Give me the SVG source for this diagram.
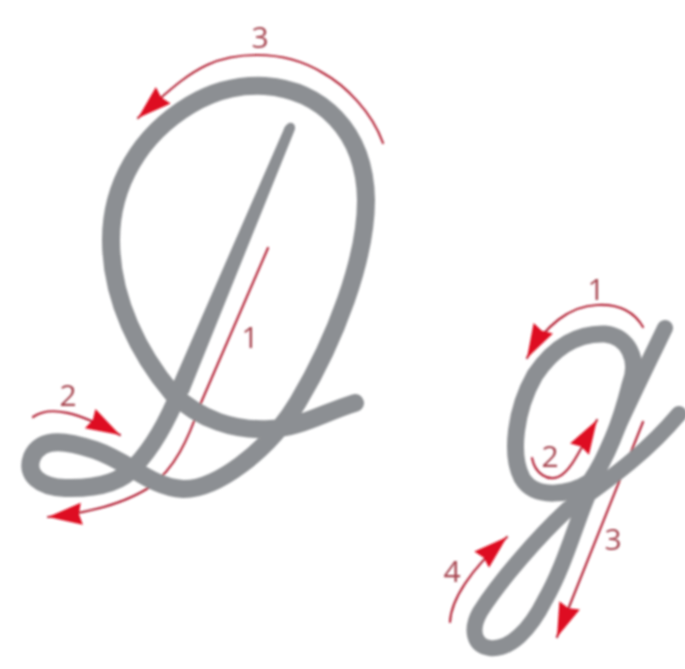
<svg xmlns="http://www.w3.org/2000/svg" width="685" height="669" viewBox="0 0 685 669">
<defs>
<filter id="soft" x="-5%" y="-5%" width="110%" height="110%"><feGaussianBlur stdDeviation="0.8"/></filter>
<marker id="head" markerUnits="userSpaceOnUse" markerWidth="36" markerHeight="28" refX="34" refY="14" orient="auto"><path d="M0 3L34 14L0 25L3 14Z" fill="#de1021"/></marker>
</defs>
<style>
.arrow{fill:none;stroke:#b5283a;stroke-width:2.2;stroke-linecap:round}
.glyph{fill:none;stroke:#8c8f93;stroke-linecap:round;stroke-linejoin:round}
.num{font-family:"Open Sans","Liberation Sans",sans-serif;font-weight:400;font-size:30px;fill:#a5434e;text-anchor:middle}
</style>
<rect width="685" height="669" fill="#ffffff"/>
<g filter="url(#soft)">
<g id="connectors">
<path class="arrow" marker-end="url(#head)" d="M383 143C372 112 345 85 323 73C302 60 280 55 257 55C237 55 222 58 207 65C190 73 178 82 138 118"/>
<path class="arrow" marker-end="url(#head)" d="M268 248L200 405C188 440 175 468 150 487C125 503 90 513 48 517"/>
<path class="arrow" marker-end="url(#head)" d="M33 417C50 405 78 412 120 435"/>
<path class="arrow" marker-end="url(#head)" d="M643 327C632 308 615 304 597 305C570 306 545 325 527 358"/>
<path class="arrow" marker-end="url(#head)" d="M532 458C535 474 548 481 558 477C572 471 582 445 597 420"/>
<path class="arrow" marker-end="url(#head)" d="M643 422L557 637"/>
<path class="arrow" marker-end="url(#head)" d="M450 622C451 600 470 570 507 537"/>
</g>
<g id="letter-d">
<path class="glyph" stroke-width="18" d="M355 403C325 412 300 428 270 429C235 431 200 420 172 393C140 355 111 300 111 240C111 185 140 135 190 105C220 87 245 85 265 86C320 90 365 130 366 200C366 260 335 340 298 402C268 452 215 490 183 489C150 487 130 462 95 450C70 442 42 435 32 457C25 475 40 487 65 488C100 489 122 482 135 466"/>
<path class="glyph" stroke-width="17" d="M135 466C155 445 170 415 180 390"/>
<path fill="#8c8f93" d="M188.5 393.5L294.5 130.5C297 124 291 121 287.5 124C285 126 284 128 283.5 130L171.5 386.5Z"/>
</g>
<g id="letter-g">
<path class="glyph" stroke-width="17" d="M590 482C570 495 535 500 522 478C510 455 515 410 535 375C555 345 580 333 605 334C628 336 640 360 630 385C620 425 605 460 590 482"/>
<path class="glyph" stroke-width="16" d="M665 328C640 380 610 440 590 490C575 525 565 565 545 600C530 630 510 650 490 648C474 646 470 630 480 612C500 580 540 535 567 510C600 485 640 460 679 414"/>
</g>
<g id="labels">
<text class="num" x="260" y="48">3</text>
<text class="num" x="250" y="348">1</text>
<text class="num" x="68" y="406">2</text>
<text class="num" x="596" y="300">1</text>
<text class="num" x="550" y="467">2</text>
<text class="num" x="613" y="550">3</text>
<text class="num" x="452" y="582">4</text>
</g>
</g>
</svg>
